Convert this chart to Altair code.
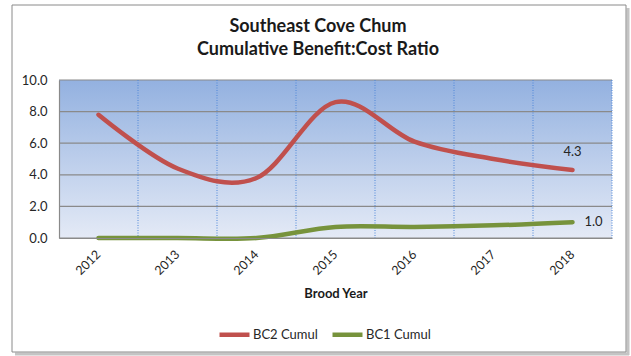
import altair as alt
import pandas as pd

# ---- data ----
years = [2012, 2013, 2014, 2015, 2016, 2017, 2018]
bc2_cumul = [7.8, 4.4, 3.8, 8.6, 6.1, 5.0, 4.3]
bc1_cumul = [0.0, 0.0, 0.0, 0.7, 0.7, 0.8, 1.0]
series_names = ["BC2 Cumul", "BC1 Cumul"]
series_colors = ["#c0504d", "#77933c"]
y_ticks = [0, 2, 4, 6, 8, 10]
title_lines = ["Southeast Cove Chum", "Cumulative Benefit:Cost Ratio"]
x_title = "Brood Year"

W, H = 553, 158
FONT = "Lato"
GRAY = "#8a8a8a"
TXT = "#262626"
BLUE = "#4f86d8"

df = pd.DataFrame({
    "year": years * 2,
    "value": bc2_cumul + bc1_cumul,
    "series": [series_names[0]] * len(years) + [series_names[1]] * len(years),
})
one = pd.DataFrame({"k": [0]})
grid_y = pd.DataFrame({"value": y_ticks})
grid_x = pd.DataFrame({"year": years[1:]})
titles = pd.DataFrame({"t": title_lines, "line": [0, 1]})

xscale = alt.Scale(type="band", paddingInner=0, paddingOuter=0, domain=years)
yscale = alt.Scale(domain=[0, 10])
xaxis = alt.Axis(
    title=x_title, labelAngle=-45, labelAlign="right", labelBaseline="middle",
    labelPadding=14, ticks=False, grid=False, domainColor=GRAY, domainWidth=1.2,
    labelFont=FONT, labelFontSize=12.5, labelColor=TXT,
    titleFont=FONT, titleFontSize=13, titleFontWeight="bold", titleColor="#1a1a1a",
    titlePadding=10, zindex=1,
)
yaxis = alt.Axis(
    title=None, values=y_ticks, format=".1f", ticks=False, grid=False,
    domainColor=GRAY, domainWidth=1.2, labelPadding=12,
    labelFont=FONT, labelFontSize=13, labelColor=TXT, zindex=1,
)

# outer chart frame with soft shadow (right and bottom)
shadow_r = alt.Chart(one).mark_rule(color="#c4c4c4", strokeWidth=3).encode(
    x=alt.value(569), y=alt.value(-72), y2=alt.value(275))
shadow_b = alt.Chart(one).mark_rule(color="#c4c4c4", strokeWidth=3).encode(
    x=alt.value(-44), x2=alt.value(570), y=alt.value(274))
frame = alt.Chart(one).mark_rect(fill=None, stroke=GRAY, strokeWidth=1).encode(
    x=alt.value(-47), x2=alt.value(567), y=alt.value(-75), y2=alt.value(272))

bg = alt.Chart(one).mark_rect(
    fill=alt.LinearGradient(
        gradient="linear",
        stops=[alt.GradientStop(color="#93b1e0", offset=0),
               alt.GradientStop(color="#e4eaf6", offset=1)],
        x1=0, x2=0, y1=0, y2=1)
).encode(x=alt.value(0), x2=alt.value(W), y=alt.value(0), y2=alt.value(H))

hgrid = alt.Chart(grid_y).mark_rule(color=GRAY, strokeWidth=1.2).encode(
    y=alt.Y("value:Q", scale=yscale, axis=yaxis))
vgrid = alt.Chart(grid_x).mark_rule(color=BLUE, strokeDash=[1, 1.5], strokeWidth=1).encode(
    x=alt.X("year:O", bandPosition=0, scale=xscale, axis=xaxis))
vgrid_end = alt.Chart(one).mark_rule(color=BLUE, strokeDash=[1, 1.5], strokeWidth=1).encode(
    x=alt.value(W), y=alt.value(0), y2=alt.value(H))

lines = alt.Chart(df).mark_line(interpolate="cardinal", strokeWidth=4.5, strokeCap="round").encode(
    x=alt.X("year:O", bandPosition=0.5, scale=xscale, axis=xaxis),
    y=alt.Y("value:Q", scale=yscale, axis=yaxis),
    color=alt.Color(
        "series:N", sort=series_names,
        scale=alt.Scale(domain=series_names, range=series_colors),
        legend=alt.Legend(
            title=None, orient="none", legendX=158, legendY=237, direction="horizontal",
            symbolType="stroke", symbolSize=900, symbolStrokeWidth=4.5,
            labelFont=FONT, labelFontSize=13, labelColor=TXT,
            columnPadding=5, labelOffset=1, padding=0,
        ),
    ),
    order=alt.Order("year:O"),
)

lbl2 = alt.Chart(df).transform_filter(
    (alt.datum.series == series_names[0]) & (alt.datum.year == years[-1])
).mark_text(dy=-18, font=FONT, fontSize=13, color=TXT).encode(
    x=alt.X("year:O", bandPosition=0.5, scale=xscale, axis=xaxis),
    y=alt.Y("value:Q", scale=yscale, axis=yaxis),
    text=alt.Text("value:Q", format=".1f"),
)
lbl1 = alt.Chart(df).transform_filter(
    (alt.datum.series == series_names[1]) & (alt.datum.year == years[-1])
).mark_text(dx=12, align="left", baseline="middle", font=FONT, fontSize=13, color=TXT).encode(
    x=alt.X("year:O", bandPosition=0.5, scale=xscale, axis=xaxis),
    y=alt.Y("value:Q", scale=yscale, axis=yaxis),
    text=alt.Text("value:Q", format=".1f"),
)

# two-line chart title
title1 = alt.Chart(titles).transform_filter(alt.datum.line == 0).mark_text(
    font=FONT, fontSize=18, fontWeight="bold", color="#1a1a1a", baseline="middle"
).encode(x=alt.value(259), y=alt.value(-53), text="t:N")
title2 = alt.Chart(titles).transform_filter(alt.datum.line == 1).mark_text(
    font=FONT, fontSize=18, fontWeight="bold", color="#1a1a1a", baseline="middle"
).encode(x=alt.value(259), y=alt.value(-30), text="t:N")

chart = alt.layer(
    shadow_r, shadow_b, frame, bg, hgrid, vgrid, vgrid_end, lines, lbl2, lbl1, title1, title2
).properties(
    width=W, height=H,
    autosize=alt.AutoSizeParams(type="none"),
    padding={"left": 59, "top": 80, "right": 19, "bottom": 118},
    background="white",
).configure_view(stroke=None)

chart.save("out.html", embed_options={"renderer": "svg", "actions": False})
